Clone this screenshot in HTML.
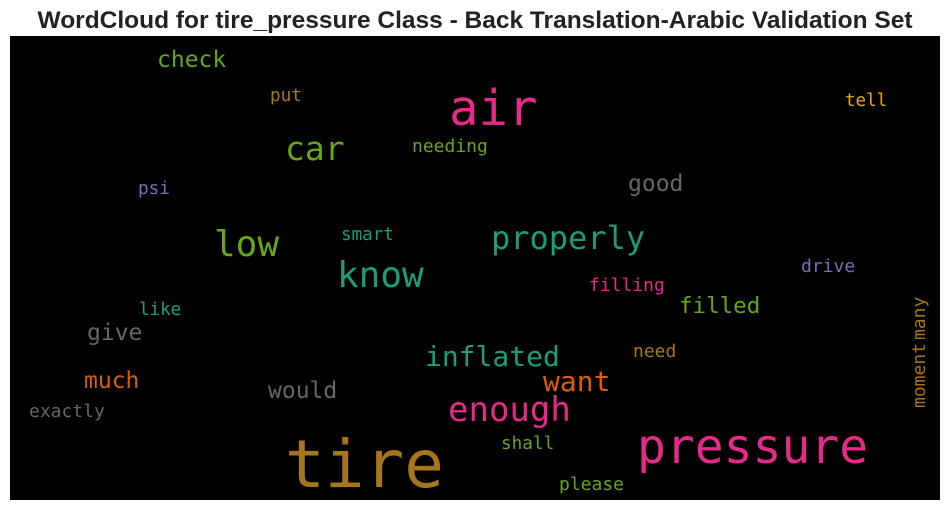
<!DOCTYPE html>
<html><head><meta charset="utf-8"><style>
html,body{margin:0;padding:0;background:#fff;width:950px;height:511px;overflow:hidden}
svg{display:block}
</style></head><body>
<svg id="chart" width="950" height="511">
<text x="475" y="28" text-anchor="middle" font-family="Liberation Sans, sans-serif" font-weight="bold" font-size="24.5" fill="#222">WordCloud for tire_pressure Class - Back Translation-Arabic Validation Set</text>
<rect x="10" y="36" width="930" height="464" fill="#000"/>
<g id="words"></g>
</svg>
<script>
const words = ["tire","pressure","air","know","properly","low","car","enough","inflated","want","much","filled","give","would","check","good","exactly","like","smart","needing","psi","put","tell","drive","filling","need","shall","please","many","moment"];
const sizes = [66,48,49,36,32,36,33,34,28,28,23,22.5,23,23,23,23,18,17.5,17.6,18,17.7,17.7,17.5,18,18,18,17.7,18,18,18];
const colors = ["#a6761d","#e7298a","#e7298a","#1b9e77","#1b9e77","#66a61e","#66a61e","#e7298a","#1b9e77","#d95f02","#d95f02","#66a61e","#666666","#666666","#66a61e","#666666","#666666","#1b9e77","#1b9e77","#66a61e","#7570b3","#a6761d","#e6ab02","#7570b3","#e7298a","#a6761d","#66a61e","#66a61e","#a6761d","#a6761d"];
const xs = [285,637,449,337,491,214,285,448,425,543,84,679,87,268,157,628,29,139,341,412,138,270,845,801,589,633,501,559,925,925];
const ys = [487,463,125,287,249,256,160,421,366,391,388,313,340,398,67,191,417,315,240,152,194,101,106,272,291,357,449,490,340,408];
const rot = [0,0,0,0,0,0,0,0,0,0,0,0,0,0,0,0,0,0,0,0,0,0,0,0,0,0,0,0,1,1];
const g = document.getElementById('words');
const NS = "http://www.w3.org/2000/svg";
for (let i = 0; i < words.length; i++) {
  const t = document.createElementNS(NS, 'text');
  t.setAttribute('x', xs[i]);
  t.setAttribute('y', ys[i]);
  t.setAttribute('font-size', sizes[i]);
  t.setAttribute('fill', colors[i]);
  t.setAttribute('font-family', 'DejaVu Sans Mono, Liberation Mono, monospace');
  if (rot[i]) t.setAttribute('transform', 'rotate(-90 ' + xs[i] + ' ' + ys[i] + ')');
  t.textContent = words[i];
  
  
  g.appendChild(t);
}
</script>
</body></html>
